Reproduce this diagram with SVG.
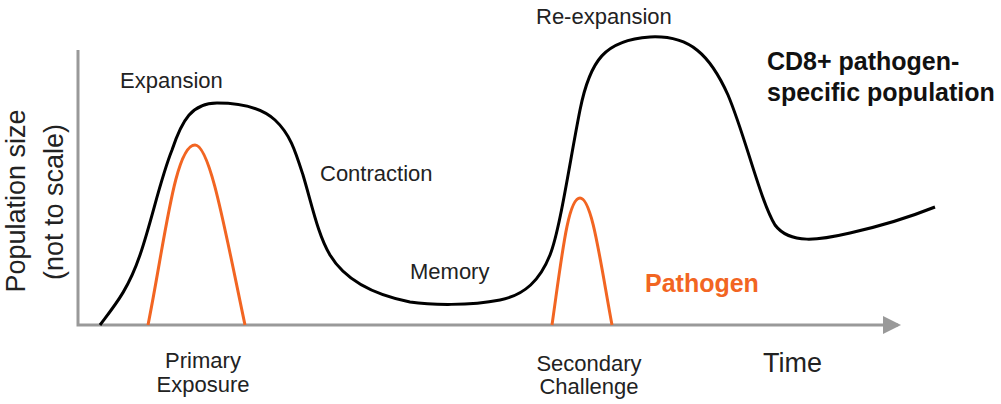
<svg xmlns="http://www.w3.org/2000/svg" width="1001" height="404" viewBox="0 0 1001 404">
<style>
text{font-family:"Liberation Sans",Arial,sans-serif;fill:#222}
.lbl{font-size:22px}
.big{font-size:27px}
.bold{font-size:25px;font-weight:bold}
.axis{stroke:#999;stroke-width:3;fill:none}
.pop{stroke:#000;stroke-width:3;fill:none}
.pat{stroke:#f26522;stroke-width:3;fill:none}
</style>
<defs>
<marker id="arr" markerWidth="6" markerHeight="6" refX="5" refY="3" orient="auto" markerUnits="strokeWidth">
<path d="M0,0 L6,3 L0,6 z" fill="#999"/>
</marker>
</defs>
<rect width="1001" height="404" fill="#fff"/>
<g id="connectors">
<path class="axis" d="M78,50 V325 H898" marker-end="url(#arr)"/>
</g>
<g id="population">
<path class="pop" d="M100,325 C115,305 128,290 140,255 C152,220 160,180 172,150 C182,120 192,103 217,103 C240,103 262,108 275,120 C290,134 295,150 303,175 C312,205 318,235 330,255 C345,280 375,295 410,302 C430,305 470,306 500,300 C525,295 540,280 550,255 C560,230 570,160 580,110 C590,60 605,40 650,37 C690,35 710,55 728,95 C745,135 760,200 775,225 C790,245 820,240 850,233 C890,224 915,215 935,207"/>
</g>
<g id="pathogen1">
<path class="pat" d="M148,325 C165,240 175,145 195,145 C210,145 225,230 245,325"/>
</g>
<g id="pathogen2">
<path class="pat" d="M552,325 C562,255 568,198 580,198 C592,198 600,260 612,325"/>
</g>
<g id="labels">
<text class="big" x="25" y="201" text-anchor="middle" transform="rotate(-90 25 201)">Population size</text>
<text class="big" x="63" y="202" text-anchor="middle" transform="rotate(-90 63 202)">(not to scale)</text>
<text class="lbl" x="120" y="88">Expansion</text>
<text class="lbl" x="320" y="181">Contraction</text>
<text class="lbl" x="410" y="279">Memory</text>
<text class="lbl" x="536" y="24">Re-expansion</text>
<text class="bold" x="767" y="70" style="fill:#111">CD8+ pathogen-</text>
<text class="bold" x="767" y="101" style="fill:#111">specific population</text>
<text class="bold" x="645" y="292" style="fill:#f26522">Pathogen</text>
<text class="lbl" x="203" y="368" text-anchor="middle">Primary</text>
<text class="lbl" x="203" y="392" text-anchor="middle">Exposure</text>
<text class="lbl" x="589" y="371" text-anchor="middle">Secondary</text>
<text class="lbl" x="589" y="394" text-anchor="middle">Challenge</text>
<text class="big" x="763" y="372">Time</text>
</g>
</svg>
